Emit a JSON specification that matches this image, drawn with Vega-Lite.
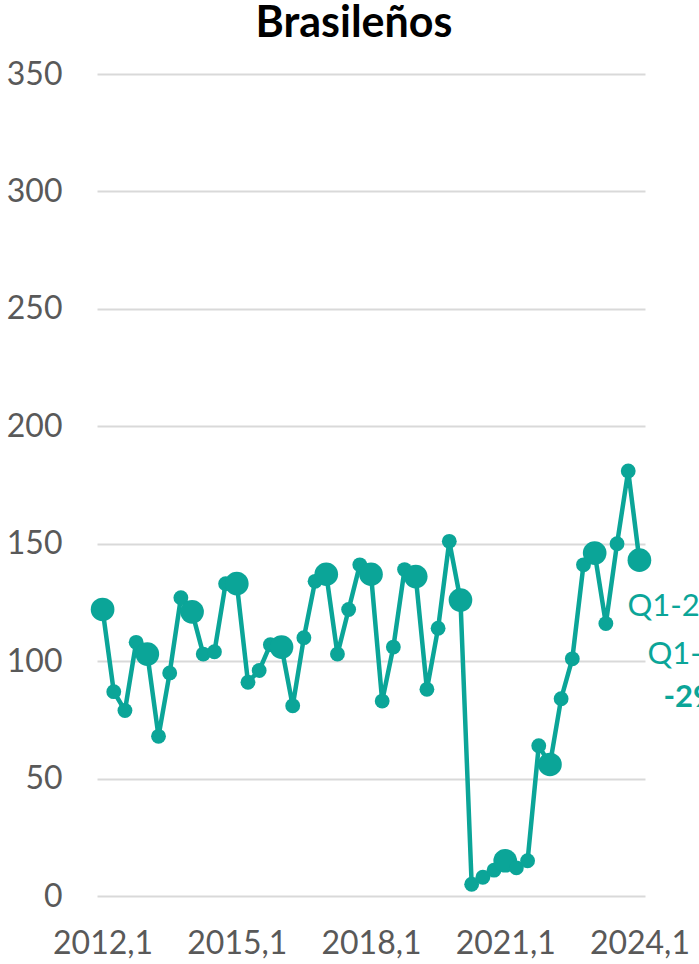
{
  "$schema": "https://vega.github.io/schema/vega-lite/v6.json",
  "width": 548,
  "height": 822,
  "autosize": {"type": "none"},
  "padding": {"left": 97, "top": 74, "right": 54, "bottom": 68},
  "background": "white",
  "title": {
    "text": "Brasileños",
    "font": "Lato",
    "fontSize": 43,
    "fontWeight": "bold",
    "color": "#000000",
    "anchor": "middle",
    "frame": "group",
    "dx": -17,
    "offset": 12
  },
  "config": {
    "view": {"stroke": null},
    "font": "Lato"
  },
  "data": {
    "values": [
      {"period": "2012,1", "quarter": 1, "value": 122},
      {"period": "2012,2", "quarter": 2, "value": 87},
      {"period": "2012,3", "quarter": 3, "value": 79},
      {"period": "2012,4", "quarter": 4, "value": 108},
      {"period": "2013,1", "quarter": 1, "value": 103},
      {"period": "2013,2", "quarter": 2, "value": 68},
      {"period": "2013,3", "quarter": 3, "value": 95},
      {"period": "2013,4", "quarter": 4, "value": 127},
      {"period": "2014,1", "quarter": 1, "value": 121},
      {"period": "2014,2", "quarter": 2, "value": 103},
      {"period": "2014,3", "quarter": 3, "value": 104},
      {"period": "2014,4", "quarter": 4, "value": 133},
      {"period": "2015,1", "quarter": 1, "value": 133},
      {"period": "2015,2", "quarter": 2, "value": 91},
      {"period": "2015,3", "quarter": 3, "value": 96},
      {"period": "2015,4", "quarter": 4, "value": 107},
      {"period": "2016,1", "quarter": 1, "value": 106},
      {"period": "2016,2", "quarter": 2, "value": 81},
      {"period": "2016,3", "quarter": 3, "value": 110},
      {"period": "2016,4", "quarter": 4, "value": 134},
      {"period": "2017,1", "quarter": 1, "value": 137},
      {"period": "2017,2", "quarter": 2, "value": 103},
      {"period": "2017,3", "quarter": 3, "value": 122},
      {"period": "2017,4", "quarter": 4, "value": 141},
      {"period": "2018,1", "quarter": 1, "value": 137},
      {"period": "2018,2", "quarter": 2, "value": 83},
      {"period": "2018,3", "quarter": 3, "value": 106},
      {"period": "2018,4", "quarter": 4, "value": 139},
      {"period": "2019,1", "quarter": 1, "value": 136},
      {"period": "2019,2", "quarter": 2, "value": 88},
      {"period": "2019,3", "quarter": 3, "value": 114},
      {"period": "2019,4", "quarter": 4, "value": 151},
      {"period": "2020,1", "quarter": 1, "value": 126},
      {"period": "2020,2", "quarter": 2, "value": 5},
      {"period": "2020,3", "quarter": 3, "value": 8},
      {"period": "2020,4", "quarter": 4, "value": 11},
      {"period": "2021,1", "quarter": 1, "value": 15},
      {"period": "2021,2", "quarter": 2, "value": 12},
      {"period": "2021,3", "quarter": 3, "value": 15},
      {"period": "2021,4", "quarter": 4, "value": 64},
      {"period": "2022,1", "quarter": 1, "value": 56},
      {"period": "2022,2", "quarter": 2, "value": 84},
      {"period": "2022,3", "quarter": 3, "value": 101},
      {"period": "2022,4", "quarter": 4, "value": 141},
      {"period": "2023,1", "quarter": 1, "value": 146},
      {"period": "2023,2", "quarter": 2, "value": 116},
      {"period": "2023,3", "quarter": 3, "value": 150},
      {"period": "2023,4", "quarter": 4, "value": 181},
      {"period": "2024,1", "quarter": 1, "value": 143}
    ]
  },
  "encoding": {
    "x": {
      "field": "period",
      "type": "ordinal",
      "sort": null,
      "scale": {"type": "point", "padding": 0.5},
      "axis": {
        "title": null,
        "values": ["2012,1", "2015,1", "2018,1", "2021,1", "2024,1"],
        "labelAngle": 0,
        "domain": false,
        "ticks": false,
        "grid": false,
        "labelFont": "Lato",
        "labelFontSize": 32,
        "labelColor": "#595959",
        "labelPadding": 32
      }
    },
    "y": {
      "field": "value",
      "type": "quantitative",
      "scale": {"domain": [0, 350], "nice": false, "zero": true},
      "axis": {
        "title": null,
        "values": [0, 50, 100, 150, 200, 250, 300, 350],
        "domain": false,
        "ticks": false,
        "grid": true,
        "gridColor": "#D9D9D9",
        "gridWidth": 2,
        "labelFont": "Lato",
        "labelFontSize": 32,
        "labelColor": "#595959",
        "labelPadding": 35
      }
    }
  },
  "layer": [
    {
      "mark": {"type": "line", "color": "#0BA598", "strokeWidth": 4.5}
    },
    {
      "mark": {"type": "circle", "color": "#0BA598", "opacity": 1},
      "encoding": {
        "size": {
          "condition": {"test": "datum.quarter === 1", "value": 560},
          "value": 220
        }
      }
    },
    {
      "transform": [{"filter": "datum.period === '2024,1'"}],
      "mark": {"type": "text", "text": "Q1-2024 vs", "align": "left", "baseline": "middle", "dx": -12, "dy": 47, "font": "Lato", "fontSize": 31, "color": "#0BA598"}
    },
    {
      "transform": [{"filter": "datum.period === '2024,1'"}],
      "mark": {"type": "text", "text": "Q1-2023", "align": "left", "baseline": "middle", "dx": 8, "dy": 95, "font": "Lato", "fontSize": 31, "color": "#0BA598"}
    },
    {
      "transform": [{"filter": "datum.period === '2024,1'"}],
      "mark": {"type": "text", "text": "-29%", "align": "left", "baseline": "middle", "dx": 24, "dy": 138, "font": "Lato", "fontSize": 31, "fontWeight": "bold", "color": "#0BA598"}
    }
  ]
}
